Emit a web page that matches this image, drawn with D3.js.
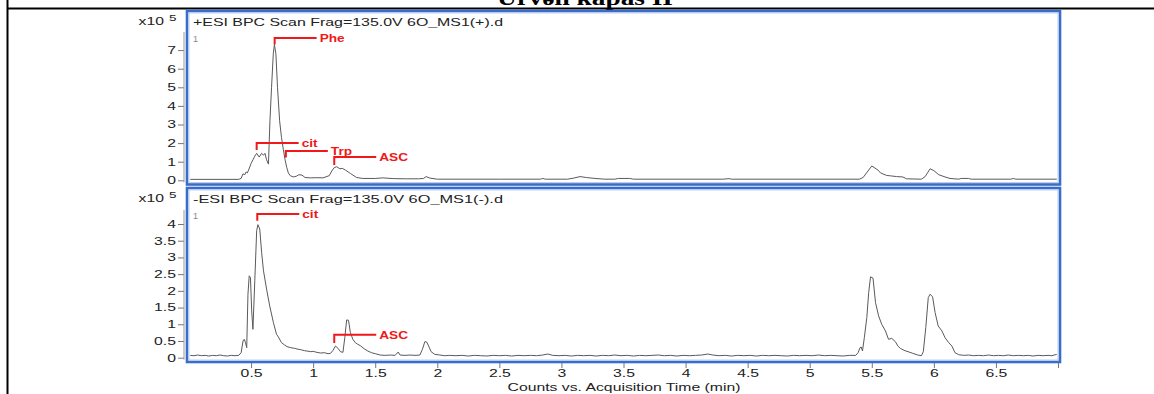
<!DOCTYPE html>
<html><head><meta charset="utf-8">
<script src="https://cdn.jsdelivr.net/npm/d3@7"></script>
<style>
body{margin:0;background:#fff}
svg{display:block}
text{font-family:Arial,"Liberation Sans",sans-serif}
</style>
</head><body>
<svg id="c" width="1154" height="394"></svg>
<script>
// ---- data (intensity in units of 10^5 counts, time in minutes) ----
const tableTitle = "Ürvəli kapas II";
const posHeader = "+ESI BPC Scan Frag=135.0V 6O_MS1(+).d";
const negHeader = "-ESI BPC Scan Frag=135.0V 6O_MS1(-).d";
const axisTitle = "Counts vs. Acquisition Time (min)";

const posTime = [0.01,0.40,0.42,0.435,0.45,0.46,0.47,0.48,0.50,0.515,0.53,0.545,0.565,0.585,0.60,0.612,0.625,0.64,0.652,0.665,0.679,0.688,0.70,0.713,0.73,0.745,0.76,0.774,0.787,0.80,0.815,0.84,0.865,0.885,0.91,0.935,0.98,1.03,1.08,1.13,1.15,1.17,1.19,1.215,1.235,1.26,1.30,1.35,1.40,1.50,1.56,1.65,1.75,1.85,1.89,1.91,1.94,2.00,2.50,2.83,2.85,2.87,3.05,3.10,3.15,3.20,3.27,3.35,3.43,3.46,3.55,3.58,4.30,4.35,4.37,5.40,5.43,5.50,5.55,5.57,5.62,5.65,5.70,5.75,5.78,5.90,5.93,5.97,6.00,6.04,6.09,6.13,6.20,6.22,6.28,6.30,6.62,6.64,6.66,6.99];
const posValue = [0.05,0.05,0.10,0.35,0.30,0.45,0.40,0.55,0.90,1.10,1.30,1.45,1.25,1.45,1.35,1.45,1.10,0.87,3.20,5.00,6.80,7.30,6.80,5.00,3.20,2.30,1.65,1.10,0.70,0.40,0.25,0.18,0.22,0.30,0.28,0.15,0.13,0.14,0.13,0.25,0.50,0.68,0.73,0.62,0.64,0.55,0.37,0.15,0.10,0.10,0.13,0.09,0.08,0.08,0.10,0.20,0.12,0.06,0.06,0.06,0.10,0.06,0.06,0.12,0.20,0.15,0.10,0.06,0.06,0.10,0.10,0.06,0.06,0.09,0.06,0.06,0.15,0.77,0.55,0.40,0.26,0.24,0.20,0.18,0.08,0.06,0.20,0.62,0.52,0.30,0.18,0.10,0.06,0.10,0.10,0.06,0.06,0.10,0.06,0.06];

const negTime = [0.01,0.04,0.07,0.10,0.13,0.16,0.19,0.22,0.25,0.28,0.31,0.34,0.37,0.40,0.42,0.435,0.445,0.455,0.465,0.475,0.485,0.495,0.505,0.515,0.53,0.545,0.555,0.57,0.585,0.60,0.625,0.65,0.68,0.705,0.72,0.745,0.77,0.79,0.82,0.85,0.87,0.90,0.93,0.95,0.98,1.00,1.03,1.06,1.09,1.12,1.14,1.16,1.18,1.20,1.22,1.24,1.255,1.27,1.285,1.30,1.32,1.34,1.36,1.38,1.41,1.44,1.47,1.50,1.54,1.58,1.62,1.66,1.685,1.70,1.74,1.78,1.82,1.86,1.88,1.90,1.915,1.93,1.95,1.98,2.02,2.06,2.10,2.15,2.20,2.25,2.30,2.35,2.40,2.45,2.50,2.55,2.60,2.65,2.70,2.75,2.80,2.85,2.89,2.93,2.98,3.03,3.08,3.13,3.18,3.23,3.28,3.33,3.38,3.43,3.48,3.53,3.58,3.63,3.68,3.73,3.78,3.83,3.88,3.93,3.98,4.03,4.08,4.13,4.18,4.22,4.27,4.32,4.37,4.42,4.47,4.52,4.57,4.62,4.67,4.72,4.77,4.82,4.87,4.92,4.97,5.02,5.07,5.12,5.17,5.22,5.27,5.32,5.37,5.39,5.405,5.415,5.425,5.44,5.46,5.475,5.49,5.51,5.53,5.555,5.58,5.61,5.635,5.66,5.69,5.71,5.73,5.76,5.80,5.83,5.87,5.90,5.915,5.935,5.955,5.97,5.99,6.01,6.035,6.065,6.09,6.12,6.145,6.17,6.20,6.24,6.28,6.32,6.36,6.40,6.44,6.48,6.52,6.56,6.60,6.64,6.68,6.72,6.76,6.80,6.84,6.88,6.92,6.95,6.99];
const negValue = [0.07,0.06,0.08,0.06,0.07,0.05,0.07,0.06,0.08,0.06,0.05,0.07,0.06,0.07,0.15,0.50,0.55,0.45,0.30,1.90,2.45,2.40,1.40,0.85,2.30,3.80,3.98,3.85,3.15,2.60,2.05,1.55,1.05,0.70,0.62,0.45,0.38,0.33,0.30,0.28,0.26,0.24,0.21,0.20,0.18,0.19,0.16,0.14,0.15,0.12,0.13,0.22,0.35,0.28,0.18,0.16,0.60,1.13,1.12,0.75,0.55,0.45,0.40,0.36,0.27,0.20,0.15,0.12,0.08,0.07,0.08,0.07,0.17,0.08,0.07,0.08,0.07,0.08,0.25,0.48,0.47,0.35,0.18,0.10,0.08,0.06,0.07,0.06,0.07,0.05,0.07,0.06,0.05,0.07,0.06,0.07,0.05,0.07,0.06,0.07,0.06,0.08,0.11,0.07,0.06,0.07,0.05,0.07,0.06,0.07,0.05,0.07,0.06,0.08,0.06,0.07,0.05,0.07,0.06,0.07,0.08,0.06,0.07,0.05,0.07,0.06,0.07,0.08,0.11,0.08,0.06,0.07,0.05,0.07,0.06,0.07,0.05,0.07,0.06,0.07,0.06,0.05,0.07,0.06,0.07,0.06,0.08,0.06,0.07,0.06,0.05,0.07,0.07,0.15,0.30,0.32,0.20,0.60,1.20,1.95,2.42,2.38,1.65,1.25,1.00,0.80,0.55,0.58,0.48,0.35,0.28,0.22,0.17,0.13,0.08,0.06,0.18,0.90,1.80,1.90,1.82,1.35,0.95,0.80,0.60,0.45,0.35,0.15,0.09,0.07,0.08,0.06,0.07,0.06,0.08,0.06,0.07,0.06,0.08,0.06,0.07,0.06,0.07,0.05,0.07,0.06,0.07,0.06,0.10];

const posTicks = [0,1,2,3,4,5,6,7];
const negTicks = [0,0.5,1,1.5,2,2.5,3,3.5,4];
const timeTicks = [0.5,1,1.5,2,2.5,3,3.5,4,4.5,5,5.5,6,6.5,7];

// peak labels: name, retention time, bracket foot and bracket top (10^5 counts)
const posPeakName = ["Phe","cit","Trp","ASC"];
const posPeakTime = [0.69,0.545,0.78,1.17];
const posPeakFoot = [7.30,1.63,1.22,0.82];
const posPeakTop  = [7.65,2.00,1.58,1.25];
const negPeakName = ["cit","ASC"];
const negPeakTime = [0.55,1.17];
const negPeakFoot = [4.10,0.44];
const negPeakTop  = [4.30,0.69];

// ---- drawing ----
const svg = d3.select("#c");
const BLUE = "#3a6cc9", TRACE = "#5a5a5a", RED = "#f01818", INK = "#222";
const WIDE = 1.5;   // the instrument export uses a horizontally widened sans face

// widen text horizontally while keeping its anchor
function widen(sel, k){
  sel.each(function(){
    const w = this.getComputedTextLength();
    if (w > 0){
      this.setAttribute("textLength", w*k);
      this.setAttribute("lengthAdjust","spacingAndGlyphs");
    }
  });
}

// table cell lines and clipped heading above
svg.append("text").attr("x",585).attr("y",5).attr("text-anchor","middle")
  .style("font-family","'Liberation Serif','Times New Roman',serif")
  .style("font-weight","bold").style("font-size","22px").attr("fill","#000")
  .attr("textLength",176).attr("lengthAdjust","spacingAndGlyphs")
  .text(tableTitle);
svg.append("line").attr("x1",7).attr("x2",1154).attr("y1",8.5).attr("y2",8.5).attr("stroke","#000").attr("stroke-width",2);
svg.append("line").attr("x1",7.5).attr("x2",7.5).attr("y1",0).attr("y2",394).attr("stroke","#000").attr("stroke-width",2);

const x = d3.scaleLinear().domain([0,7]).range([189,1058]);

function panel(cfg){
  const g = svg.append("g");
  const y = d3.scaleLinear().domain(cfg.domain).range(cfg.range);
  // frame
  g.append("rect").attr("x",cfg.box[0]).attr("y",cfg.box[1])
    .attr("width",cfg.box[2]-cfg.box[0]).attr("height",cfg.box[3]-cfg.box[1])
    .attr("fill","none").attr("stroke",BLUE).attr("stroke-width",2.6);
  g.append("rect").attr("x",cfg.box[0]+2).attr("y",cfg.box[1]+2)
    .attr("width",cfg.box[2]-cfg.box[0]-4).attr("height",cfg.box[3]-cfg.box[1]-4)
    .attr("fill","none").attr("stroke","#a9c2ea").attr("stroke-width",0.8);
  // y axis
  const ax = g.append("g").attr("transform","translate(184,0)")
    .call(d3.axisLeft(y).tickValues(cfg.ticks).tickSize(6).tickPadding(2)
      .tickFormat(d3.format("~g")));
  ax.select(".domain").remove();
  ax.selectAll(".tick line").attr("stroke","#777");
  ax.selectAll(".tick text").attr("fill",INK).style("font-size","10.5px")
    .style("font-family","Arial,'Liberation Sans',sans-serif").call(widen, WIDE);
  g.append("line").attr("x1",184).attr("x2",184).attr("y1",cfg.axisTop).attr("y2",cfg.range[0]+2)
    .attr("stroke","#999").attr("stroke-width",1);
  // multiplier
  g.append("text").attr("x",164).attr("y",cfg.box[1]+14).attr("text-anchor","end")
    .attr("fill",INK).style("font-size","10.5px").text("x10").call(widen, WIDE);
  g.append("text").attr("x",169).attr("y",cfg.box[1]+10)
    .attr("fill",INK).style("font-size","9px").text("5").call(widen, WIDE);
  // header + index
  g.append("text").attr("x",193).attr("y",cfg.box[1]+15).attr("fill",INK)
    .style("font-size","11.5px").attr("textLength",310).attr("lengthAdjust","spacingAndGlyphs")
    .text(cfg.header);
  g.append("text").attr("x",193).attr("y",cfg.box[1]+31).attr("fill","#888")
    .style("font-size","9px").text("1");
  // trace
  const pts = cfg.time.map((t,i)=>[t,cfg.value[i]]);
  g.append("path").datum(pts)
    .attr("d",d3.line().x(d=>x(d[0])).y(d=>y(d[1])))
    .attr("fill","none").attr("stroke",TRACE).attr("stroke-width",1).attr("stroke-linejoin","round");
  // peak brackets
  cfg.peakName.forEach((n,i)=>{
    const px = x(cfg.peakTime[i]), py0 = y(cfg.peakFoot[i]), py1 = y(cfg.peakTop[i]);
    g.append("path").attr("d",`M${px},${py0}V${py1}H${px+42}`)
      .attr("fill","none").attr("stroke",RED).attr("stroke-width",2);
    g.append("text").attr("x",px+45).attr("y",py1+4).attr("fill",RED)
      .style("font-size","10.5px").style("font-weight","bold").text(n).call(widen, 1.3);
  });
  return y;
}

panel({domain:[0,7],range:[180.3,50.1],box:[187,11,1060,184.5],axisTop:32,ticks:posTicks,
  header:posHeader,time:posTime,value:posValue,
  peakName:posPeakName,peakTime:posPeakTime,peakFoot:posPeakFoot,peakTop:posPeakTop});
panel({domain:[0,4],range:[357.7,224],box:[187,188,1060,362],axisTop:210,ticks:negTicks,
  header:negHeader,time:negTime,value:negValue,
  peakName:negPeakName,peakTime:negPeakTime,peakFoot:negPeakFoot,peakTop:negPeakTop});

// time axis
const xa = svg.append("g").attr("transform","translate(0,363)")
  .call(d3.axisBottom(x).tickValues(timeTicks).tickSize(5).tickPadding(2)
    .tickFormat(d=> d===7 ? "" : d3.format("~g")(d)));
xa.select(".domain").remove();
xa.selectAll(".tick line").attr("stroke","#777");
xa.selectAll(".tick text").attr("fill",INK).style("font-size","10.5px")
  .style("font-family","Arial,'Liberation Sans',sans-serif").call(widen, WIDE);
svg.append("text").attr("x",624).attr("y",391).attr("text-anchor","middle")
  .attr("fill",INK).style("font-size","10.5px").text(axisTitle).call(widen, WIDE);
</script>
</body></html>
